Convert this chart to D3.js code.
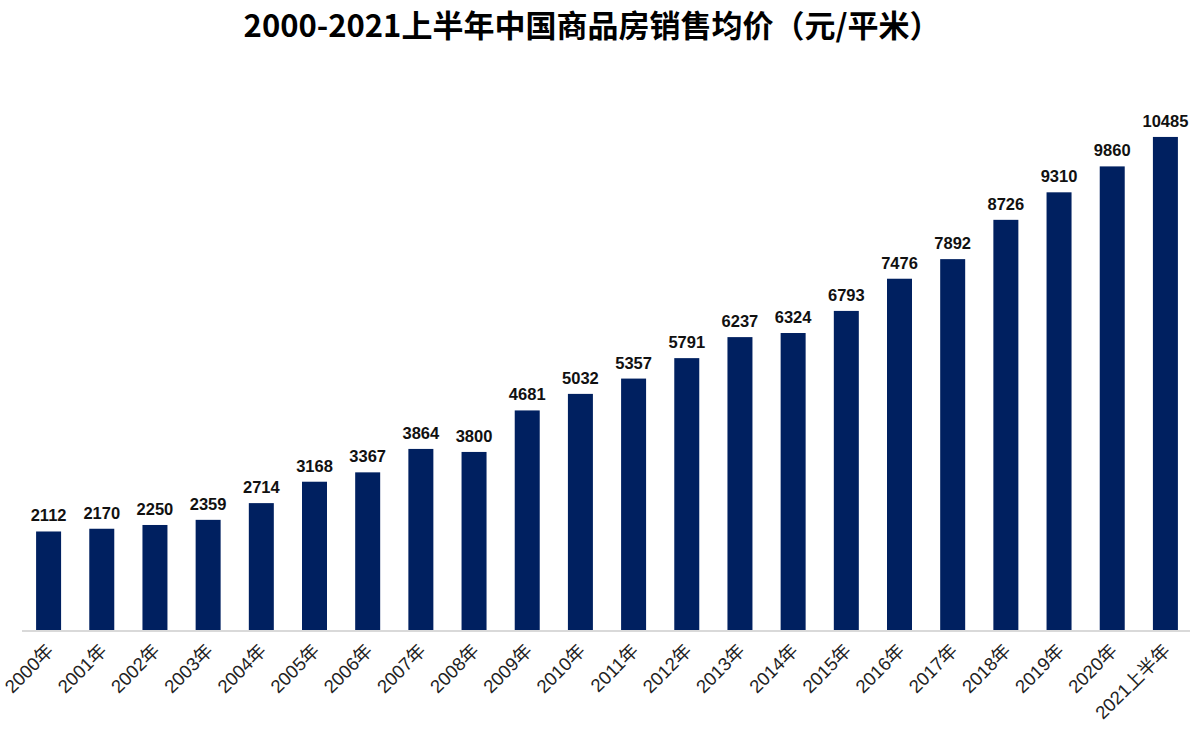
<!DOCTYPE html>
<html><head><meta charset="utf-8">
<script src="https://cdn.jsdelivr.net/npm/d3@7/dist/d3.min.js"></script>
<style>body{margin:0;background:#fff}svg{display:block}</style>
</head><body>
<svg id="c" width="1200" height="735"></svg>
<script>
const categories = ["2000年","2001年","2002年","2003年","2004年","2005年","2006年","2007年","2008年","2009年","2010年","2011年","2012年","2013年","2014年","2015年","2016年","2017年","2018年","2019年","2020年","2021上半年"];
const values = [2112,2170,2250,2359,2714,3168,3367,3864,3800,4681,5032,5357,5791,6237,6324,6793,7476,7892,8726,9310,9860,10485];
const title = "2000-2021上半年中国商品房销售均价（元/平米）";

const svg = d3.select("#c");
const baseY = 631;
const x = d3.scaleBand().domain(categories).range([22, 1192]).paddingInner(0.53).paddingOuter(0.265);
const y = d3.scaleLinear().domain([0, 12000]).range([baseY, baseY - 12000*0.04712]);

svg.append("text").attr("x", 592).attr("y", 37).attr("text-anchor","middle")
  .attr("font-family","'Noto Sans CJK SC', 'Liberation Sans', sans-serif").attr("font-weight","bold")
  .attr("font-size", 31).attr("fill","#000").text(title);

svg.append("g").selectAll("rect").data(values).join("rect")
  .attr("x",(d,i)=>x(categories[i])).attr("width",x.bandwidth())
  .attr("y",d=>y(d)).attr("height",d=>baseY-y(d)).attr("fill","#002060");

svg.append("g").selectAll("text").data(values).join("text")
  .attr("x",(d,i)=>x(categories[i])+x.bandwidth()/2).attr("y",d=>y(d)-10)
  .attr("text-anchor","middle").attr("font-family","'Liberation Sans', Arial, sans-serif")
  .attr("font-weight","bold").attr("font-size",16.5).attr("fill","#111").text(d=>d);

const axis = d3.axisBottom(x).tickSize(0).tickPadding(0);
const g = svg.append("g").attr("transform",`translate(0,${baseY})`).call(axis);
g.select(".domain").attr("stroke","#d9d9d9").attr("stroke-width",2).attr("d","M22,0H1190");
g.selectAll(".tick text").attr("font-family","'Liberation Sans', 'Noto Sans CJK SC', sans-serif")
  .attr("font-size",18.5).attr("fill","#222").attr("text-anchor","end")
  .attr("dy",0).attr("transform","translate(6,21) rotate(-45)");
</script>
</body></html>
